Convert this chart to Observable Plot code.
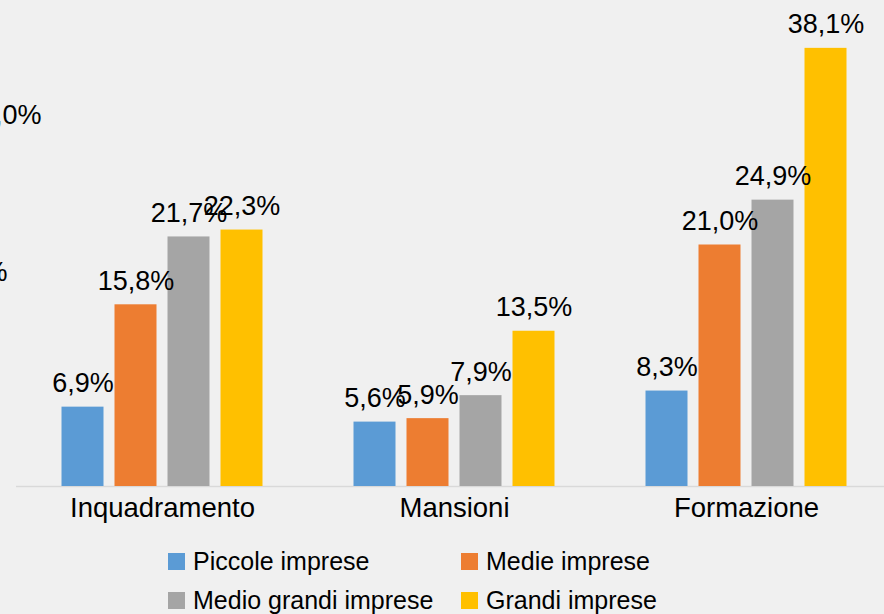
<!DOCTYPE html>
<html>
<head>
<meta charset="utf-8">
<script src="https://cdn.jsdelivr.net/npm/d3@7"></script>
<script src="https://cdn.jsdelivr.net/npm/@observablehq/plot@0.6"></script>
<style>
  html, body { margin: 0; padding: 0; background: #f0f0f0; overflow: hidden; width: 884px; height: 614px; }
  #legend { display: grid; grid-template-columns: 293px 293px; padding-left: 168px; padding-top: 2px; font-family: "Liberation Sans", Arial, sans-serif; font-size: 25px; color: #000; }
  .item { display: flex; align-items: center; height: 39px; white-space: nowrap; }
  .sw { width: 17px; height: 17px; margin-right: 8px; flex: none; }
</style>
</head>
<body>
<div id="chart"></div>
<div id="legend"></div>
<script>
const categories = ["Inquadramento", "Mansioni", "Formazione"];
const series = ["Piccole imprese", "Medie imprese", "Medio grandi imprese", "Grandi imprese"];
const piccole = [6.9, 5.6, 8.3];
const medie = [15.8, 5.9, 21.0];
const medioGrandi = [21.7, 7.9, 24.9];
const grandi = [22.3, 13.5, 38.1];
const colors = ["#5b9bd5", "#ed7d31", "#a5a5a5", "#ffc000"];
// partially visible labels cut at the left edge of the picture
const cutLabels = ["30,0%", "20,0%"];
const cutValues = [32.3, 18.6];

const valuesBySeries = [piccole, medie, medioGrandi, grandi];
const data = [];
series.forEach((s, si) => {
  categories.forEach((c, ci) => {
    data.push({cat: c, series: s, value: valuesBySeries[si][ci]});
  });
});
const fmt = v => v.toFixed(1).replace(".", ",") + "%";
const cutData = cutLabels.map((t, i) => ({cat: categories[0], text: t, value: cutValues[i]}));

const chart = Plot.plot({
  width: 884,
  height: 540,
  marginLeft: 15.5,
  marginRight: -7.5,
  marginTop: 26,
  marginBottom: 54,
  style: {background: "#f0f0f0", fontFamily: "'Liberation Sans', Arial, sans-serif", color: "#000", overflow: "hidden"},
  fx: {domain: categories, padding: 0, label: null, axis: null},
  x: {domain: series, axis: null, paddingInner: 0.2075, paddingOuter: 0.858},
  y: {domain: [0, 40], axis: null},
  color: {domain: series, range: colors},
  marks: [
    Plot.ruleY([0], {stroke: "#d9d9d9", strokeWidth: 1.5}),
    Plot.barY(data, {fx: "cat", x: "series", y: "value", fill: "series"}),
    Plot.text(data, {fx: "cat", x: "series", y: "value", text: d => fmt(d.value), lineAnchor: "bottom", dy: -15, fontSize: 27, fill: "#000"}),
    Plot.text(cutData.slice(0, 1), {fx: "cat", y: "value", text: "text", frameAnchor: "left", textAnchor: "end", dx: 25, lineAnchor: "middle", fontSize: 27, fill: "#000"}),
    Plot.text(cutData.slice(1), {fx: "cat", y: "value", text: "text", frameAnchor: "left", textAnchor: "end", dx: -9, lineAnchor: "middle", fontSize: 27, fill: "#000"}),
    Plot.axisFx({anchor: "bottom", tickSize: 0, tickPadding: 11, fontSize: 27.5, fill: "#000", label: null})
  ]
});
document.getElementById("chart").appendChild(chart);

const legend = document.getElementById("legend");
series.forEach((s, i) => {
  const item = document.createElement("div");
  item.className = "item";
  const sw = document.createElement("span");
  sw.className = "sw";
  sw.style.background = colors[i];
  const lab = document.createElement("span");
  lab.textContent = s;
  item.appendChild(sw);
  item.appendChild(lab);
  legend.appendChild(item);
});
</script>
</body>
</html>
